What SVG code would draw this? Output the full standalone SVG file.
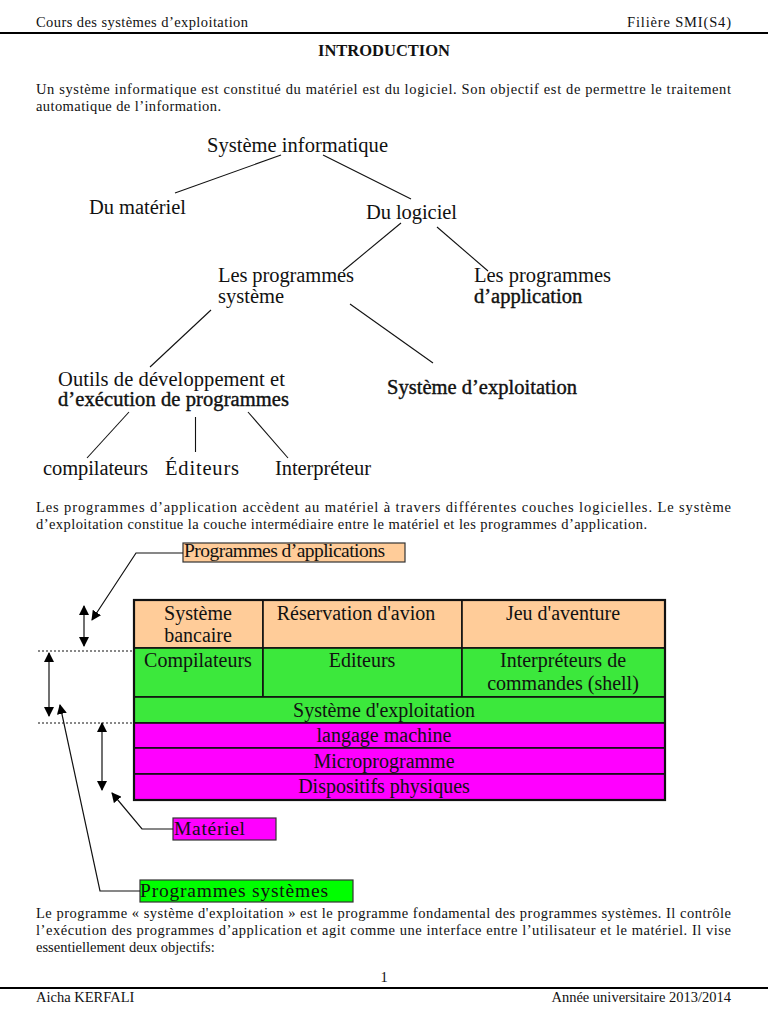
<svg xmlns="http://www.w3.org/2000/svg" width="768" height="1024" viewBox="0 0 768 1024">
<style>
text{font-family:"Liberation Serif","Times New Roman",serif;fill:#111}
.b{font-size:14.5px}
.t{font-size:20.5px}
.hv{stroke:#111;stroke-width:0.4}
.c{font-size:20px;text-anchor:middle}
.lbl{font-size:19.5px}
.ln{stroke:#111;stroke-width:1.1;fill:none}
.cell{stroke:#111;stroke-width:1.6}
.pe{fill:#FFCC99}
.gr{fill:#3CE83C}
.mg{fill:#FF00FF}
.dash{stroke:#111;stroke-width:1;stroke-dasharray:2,2}
.arr{stroke:#111;stroke-width:1.2;fill:none}
</style>
<defs>
<marker id="ah" viewBox="0 0 10 10" refX="9" refY="5" markerWidth="10" markerHeight="10" markerUnits="userSpaceOnUse" orient="auto-start-reverse">
<path d="M0,0 L10,5 L0,10 z" fill="#000"/>
</marker>
</defs>
<rect width="768" height="1024" fill="#fff"/>

<g id="header">
<text class="b" x="36" y="27" textLength="212" lengthAdjust="spacing">Cours des systèmes d’exploitation</text>
<text class="b" x="731" y="27" text-anchor="end" textLength="104" lengthAdjust="spacing">Filière SMI(S4)</text>
<line x1="0" y1="33" x2="768" y2="33" stroke="#000" stroke-width="2"/>
<text x="384" y="56" text-anchor="middle" font-weight="bold" font-size="16.5">INTRODUCTION</text>
<text class="b" x="36" y="94" textLength="695" lengthAdjust="spacing">Un système informatique est constitué du matériel est du logiciel. Son objectif est de permettre le traitement</text>
<text class="b" x="36" y="111" textLength="185" lengthAdjust="spacing">automatique de l’information.</text>
</g>

<g id="tree-connectors">
<line class="ln" x1="281" y1="155" x2="175" y2="193"/>
<line class="ln" x1="323" y1="155" x2="411" y2="199"/>
<line class="ln" x1="401" y1="223" x2="343" y2="271"/>
<line class="ln" x1="437" y1="227" x2="488" y2="271"/>
<line class="ln" x1="211" y1="310" x2="150" y2="367"/>
<line class="ln" x1="350" y1="304" x2="433" y2="363"/>
<line class="ln" x1="129" y1="412" x2="87" y2="458"/>
<line class="ln" x1="195.5" y1="417" x2="195.5" y2="452"/>
<line class="ln" x1="248" y1="412" x2="288" y2="458"/>
</g>

<g id="n-systeme-informatique"><text class="t" x="207" y="152" textLength="181" lengthAdjust="spacing">Système informatique</text></g>
<g id="n-materiel"><text class="t" x="89" y="214" textLength="97" lengthAdjust="spacing">Du matériel</text></g>
<g id="n-logiciel"><text class="t" x="366" y="219" textLength="91" lengthAdjust="spacing">Du logiciel</text></g>
<g id="n-prog-systeme"><text class="t" x="218" y="282" textLength="136" lengthAdjust="spacing">Les programmes</text><text class="t" x="218" y="303">système</text></g>
<g id="n-prog-application"><text class="t" x="474" y="282" textLength="137" lengthAdjust="spacing">Les programmes</text><text class="t hv" x="474" y="303">d’application</text></g>
<g id="n-outils"><text class="t" x="58" y="386" textLength="227" lengthAdjust="spacing">Outils de développement et</text><text class="t hv" x="58" y="406" textLength="231" lengthAdjust="spacing">d’exécution de programmes</text></g>
<g id="n-se"><text class="t hv" x="387" y="394" textLength="190" lengthAdjust="spacing">Système d’exploitation</text></g>
<g id="n-compilateurs"><text class="t" x="43" y="475" textLength="105" lengthAdjust="spacing">compilateurs</text></g>
<g id="n-editeurs"><text class="t" x="165" y="475" textLength="74" lengthAdjust="spacing">Éditeurs</text></g>
<g id="n-interpreteur"><text class="t" x="275" y="475" textLength="96" lengthAdjust="spacing">Interpréteur</text></g>

<g id="para2">
<text class="b" x="36" y="512" textLength="695" lengthAdjust="spacing">Les programmes d’application accèdent au matériel à travers différentes couches logicielles. Le système</text>
<text class="b" x="36" y="529" textLength="611" lengthAdjust="spacing">d’exploitation  constitue la couche intermédiaire entre le matériel et les programmes d’application.</text>
</g>

<g id="layers">
<rect class="cell pe" x="134" y="600" width="129" height="48"/>
<rect class="cell pe" x="263" y="600" width="199" height="48"/>
<rect class="cell pe" x="462" y="600" width="203" height="48"/>
<rect class="cell gr" x="134" y="648" width="129" height="49"/>
<rect class="cell gr" x="263" y="648" width="199" height="49"/>
<rect class="cell gr" x="462" y="648" width="203" height="49"/>
<rect class="cell gr" x="134" y="697" width="531" height="26"/>
<rect class="cell mg" x="134" y="723" width="531" height="25"/>
<rect class="cell mg" x="134" y="748" width="531" height="26"/>
<rect class="cell mg" x="134" y="774" width="531" height="26"/>
<rect x="134" y="600" width="531" height="200" fill="none" stroke="#111" stroke-width="2.2"/>
<text class="c" x="198" y="620">Système</text>
<text class="c" x="198" y="642">bancaire</text>
<text class="c" x="356" y="620">Réservation d'avion</text>
<text class="c" x="563" y="620">Jeu d'aventure</text>
<text class="c" x="198" y="667">Compilateurs</text>
<text class="c" x="362" y="667">Editeurs</text>
<text class="c" x="563" y="667">Interpréteurs de</text>
<text class="c" x="563" y="690">commandes (shell)</text>
<text class="c" x="384" y="717">Système d'exploitation</text>
<text class="c" x="384" y="742">langage machine</text>
<text class="c" x="384" y="768">Microprogramme</text>
<text class="c" x="384" y="793">Dispositifs physiques</text>
</g>

<g id="lbl-applications">
<rect x="183" y="543" width="222" height="19" fill="#FFCC99" stroke="#333" stroke-width="1.2"/>
<text class="lbl" x="184" y="557" textLength="201" lengthAdjust="spacing">Programmes d’applications</text>
</g>
<g id="lbl-materiel">
<rect x="173" y="818" width="103" height="22" fill="#FF00FF" stroke="#333" stroke-width="1.2"/>
<text class="lbl" x="174" y="835" font-size="21" textLength="71" lengthAdjust="spacing">Matériel</text>
</g>
<g id="lbl-systemes">
<rect x="140" y="880" width="213" height="22" fill="#00FF00" stroke="#333" stroke-width="1.2"/>
<text class="lbl" x="140" y="897" font-size="21" textLength="188" lengthAdjust="spacing">Programmes systèmes</text>
</g>

<g id="connectors">
<line class="dash" x1="38" y1="651" x2="134" y2="651"/>
<line class="dash" x1="38" y1="723" x2="134" y2="723"/>
<line class="arr" x1="84" y1="606" x2="84" y2="646" marker-start="url(#ah)" marker-end="url(#ah)"/>
<line class="arr" x1="49" y1="653" x2="49" y2="716" marker-start="url(#ah)" marker-end="url(#ah)"/>
<line class="arr" x1="102" y1="723" x2="102" y2="790" marker-start="url(#ah)" marker-end="url(#ah)"/>
<polyline class="arr" points="183,553 136,553 92,620" marker-end="url(#ah)"/>
<polyline class="arr" points="140,891 100,891 60,705" marker-end="url(#ah)"/>
<polyline class="arr" points="173,829 142,829 112,793" marker-end="url(#ah)"/>
</g>

<g id="para3">
<text class="b" x="36" y="918" textLength="695" lengthAdjust="spacing">Le programme « système d'exploitation » est le programme fondamental des programmes systèmes. Il contrôle</text>
<text class="b" x="36" y="935" textLength="695" lengthAdjust="spacing">l’exécution des programmes d’application et agit comme une interface entre l’utilisateur et le matériel. Il vise</text>
<text class="b" x="36" y="952">essentiellement deux objectifs:</text>
</g>

<g id="footer">
<text class="b" x="384" y="982" text-anchor="middle">1</text>
<line x1="0" y1="988" x2="768" y2="988" stroke="#000" stroke-width="2"/>
<text class="b" x="36" y="1002">Aicha KERFALI</text>
<text class="b" x="731" y="1002" text-anchor="end">Année universitaire 2013/2014</text>
</g>
</svg>
